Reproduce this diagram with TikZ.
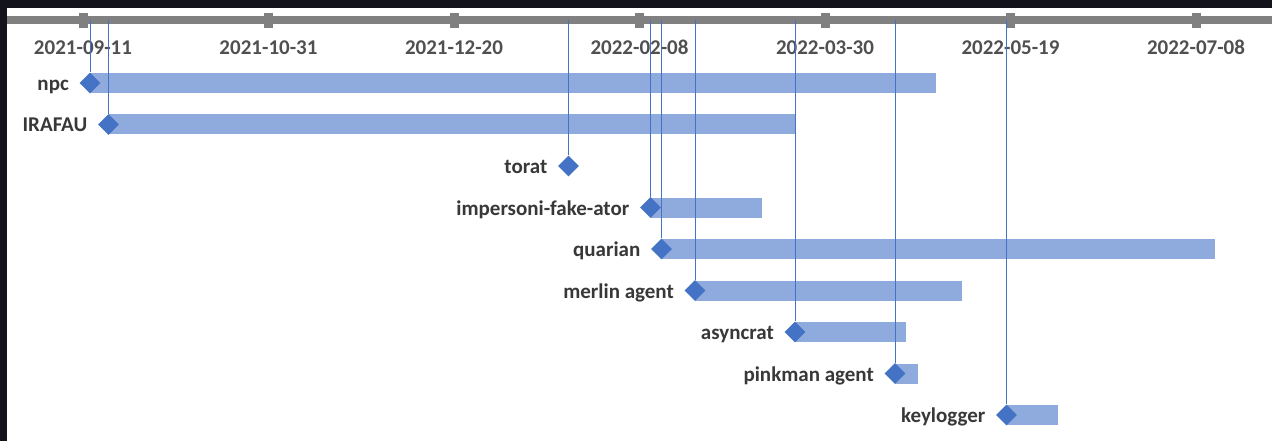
\documentclass[tikz,border=0pt]{standalone}
\usepackage{fontspec}
\setmainfont{Carlito}
\usetikzlibrary{shapes.geometric}
\definecolor{bg}{HTML}{13131C}
\definecolor{axisgray}{HTML}{808080}
\definecolor{barblue}{HTML}{8FAADC}
\definecolor{mk}{HTML}{4472C4}
\definecolor{ticktext}{HTML}{505050}
\definecolor{rowtext}{HTML}{383838}
\tikzset{
  axtick/.style={fill=axisgray},
  ticklabel/.style={text=ticktext, font=\fontsize{21}{24}\selectfont\bfseries, inner sep=0pt, anchor=base},
  rowlabel/.style={text=rowtext, font=\fontsize{21}{24}\selectfont\bfseries, inner sep=0pt, anchor=base east},
  bar/.style={fill=barblue},
  vline/.style={draw=mk, line width=1pt},
  milestone/.style={diamond, aspect=1, fill=mk, minimum width=21pt, minimum height=21pt, inner sep=0pt}
}
\begin{document}
\begin{tikzpicture}[x=1pt,y=-1pt]
\useasboundingbox (0,0) rectangle (1272,441);
\fill[bg] (0,0) rectangle (1272,441);
\fill[white] (7,8) rectangle (1272,441);
% axis
\fill[axisgray] (7,16) rectangle (1272,24);
\foreach \x/\lab/\n in {83/2021-09-11/t1, 268.5/2021-10-31/t2, 454/2021-12-20/t3, 639.5/2022-02-08/t4, 825/2022-03-30/t5, 1010.5/2022-05-19/t6, 1196/2022-07-08/t7}{
  \fill[axtick] (\x-4.5,13) rectangle (\x+4.5,28);
  \node[ticklabel] (\n) at (\x,54.5) {\lab};
}
% bars
\foreach \n/\y/\xs/\xe in {npc/83/90/936, irafau/124.5/108.5/795, impersoni/207.5/650.5/762, quarian/249/661.5/1215, merlin/290.5/695/962, asyncrat/332/795/906, pinkman/373.5/895/918, keylogger/415/1006.5/1058}{
  \fill[bar] (\xs,\y-10) rectangle (\xe,\y+10);
}
% milestones, leader lines, labels
\foreach \n/\lab/\y/\xs in {npc/npc/83/90, irafau/IRAFAU/124.5/108.5, torat/torat/166/568.5, impersoni/impersoni-fake-ator/207.5/650.5, quarian/quarian/249/661.5, merlin/merlin agent/290.5/695, asyncrat/asyncrat/332/795, pinkman/pinkman agent/373.5/895, keylogger/keylogger/415/1006.5}{
  \coordinate (a-\n) at (\xs,20);
  \node[milestone] (d-\n) at (\xs,\y) {};
  \node[rowlabel] (l-\n) at (\xs-21,\y+7.5) {\lab};
}
\foreach \n in {npc,irafau,torat,impersoni,quarian,merlin,asyncrat,pinkman,keylogger}{
  \draw[vline] (a-\n) -- (d-\n.north);
}
\end{tikzpicture}
\end{document}
